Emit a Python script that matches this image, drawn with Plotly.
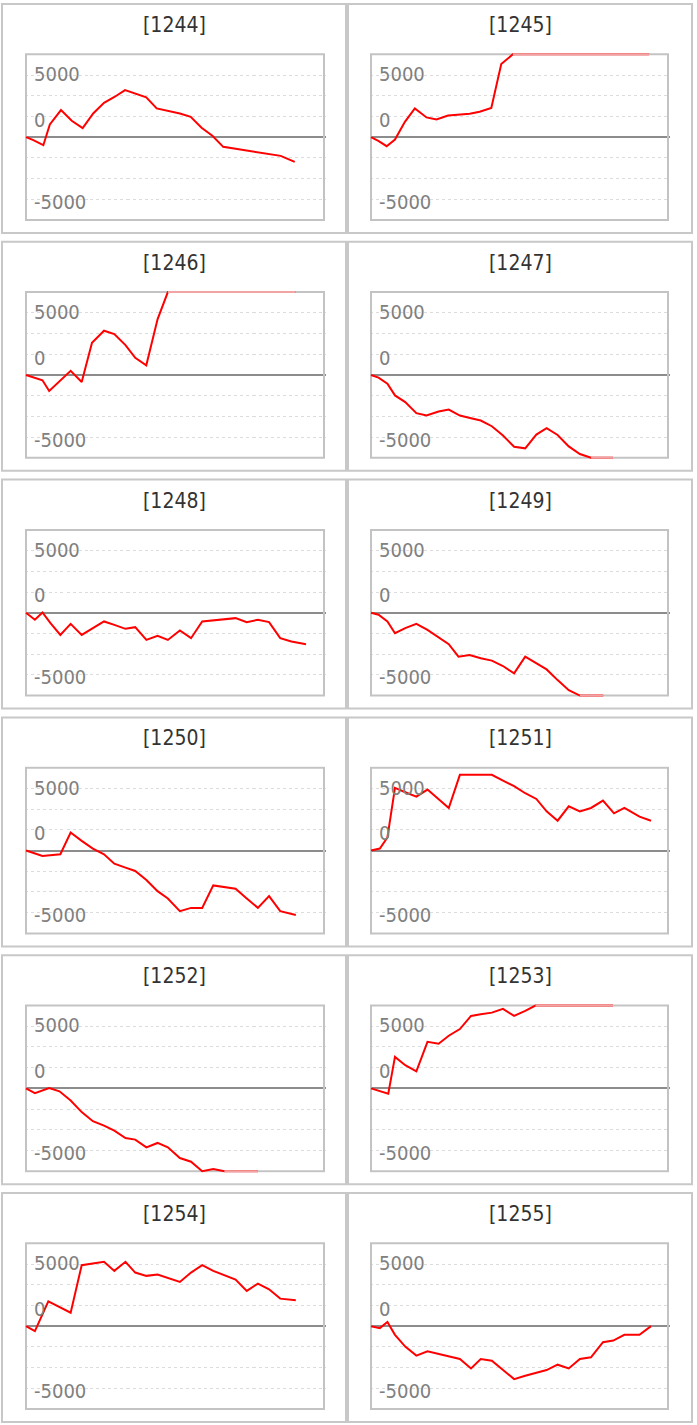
import plotly.graph_objects as go

# ---------------- data ----------------
machines = ["1244", "1245", "1246", "1247", "1248", "1249",
            "1250", "1251", "1252", "1253", "1254", "1255"]

x_1244 = [0, 0.68, 1.6, 2.2, 3.23, 4.22, 5.23, 6.2, 7.2, 8.2, 9.14, 11.1, 12.06, 14.2, 15.2, 16.2, 17.2, 18.2, 23.5, 24.8]
y_1244 = [0, -360, -970, 1530, 3270, 1980, 1090, 2860, 4150, 4880, 5680, 4800, 3470, 2860, 2460, 1130, 160, -1170, -2260, -2980]

x_1245 = [0, 0.68, 1.45, 2.22, 3.14, 4.06, 5.14, 6.06, 7.14, 8.06, 9.14, 10.06, 11.14, 12.06, 12.98, 13.14, 25.75]
y_1245 = [0, -440, -1090, -280, 1850, 3470, 2380, 2140, 2620, 2740, 2820, 3060, 3510, 8830, 9790, 10000, 10000]

x_1246 = [0, 0.62, 1.52, 2.14, 3.09, 4.12, 5.14, 6.09, 7.2, 8.15, 9.18, 10.08, 11.1, 12.14, 13.09, 24.9]
y_1246 = [0, -240, -650, -1940, -730, 490, -850, 3880, 5340, 4940, 3600, 2060, 1170, 6710, 10000, 10000]

x_1247 = [0, 0.7, 1.52, 2.22, 3.17, 4.2, 5.14, 6.26, 7.2, 8.23, 9.26, 10.16, 11.19, 12.22, 13.25, 14.28, 15.31, 16.26, 17.28, 18.31, 19.34, 20.37, 22.4]
y_1247 = [0, -320, -1050, -2470, -3280, -4610, -4900, -4410, -4170, -4900, -5220, -5500, -6190, -7320, -8660, -8860, -7200, -6430, -7240, -8620, -9550, -10000, -10000]

x_1248 = [0, 0.82, 1.52, 2.26, 3.17, 4.12, 5.14, 6.17, 7.2, 8.15, 9.18, 10.08, 11.11, 12.14, 13.09, 14.2, 15.23, 16.26, 17.28, 18.31, 19.34, 20.37, 21.4, 22.43, 23.46, 24.49, 25.84]
y_1248 = [0, -850, 40, -1250, -2670, -1340, -2670, -1860, -1050, -1460, -1940, -1740, -3280, -2790, -3280, -2140, -3070, -1050, -930, -850, -650, -1130, -850, -1130, -3070, -3480, -3800]

x_1249 = [0, 0.7, 1.52, 2.22, 3.17, 4.2, 5.23, 6.26, 7.2, 8.1, 9.13, 10.16, 11.19, 12.22, 13.25, 14.28, 15.31, 16.26, 17.28, 18.31, 19.34, 21.5]
y_1249 = [0, -240, -1050, -2470, -1860, -1340, -2060, -2950, -3800, -5300, -5100, -5500, -5780, -6430, -7320, -5300, -6110, -6840, -8130, -9340, -10000, -10000]

x_1250 = [0, 0.62, 1.52, 3.17, 4.12, 5.14, 6.17, 7.2, 8.15, 9.18, 10.08, 11.11, 12.14, 13.09, 14.2, 15.23, 16.26, 17.28, 18.31, 19.34, 20.37, 21.4, 22.43, 23.46, 24.9]
y_1250 = [0, -240, -650, -450, 2180, 1170, 240, -450, -1580, -2060, -2470, -3560, -4900, -5790, -7320, -6920, -6920, -4210, -4410, -4610, -5790, -6920, -5500, -7320, -7770]

x_1251 = [0, 0.82, 1.52, 2.22, 3.17, 4.2, 5.23, 6.26, 7.2, 8.23, 9.26, 10.16, 11.19, 12.22, 13.25, 14.28, 15.31, 16.26, 17.28, 18.31, 19.34, 20.37, 21.48, 22.5, 23.46, 24.86, 25.93]
y_1251 = [0, 240, 1580, 7560, 7040, 6510, 7360, 6230, 5140, 9140, 9140, 9140, 9140, 8450, 7770, 6920, 6230, 4730, 3600, 5340, 4730, 5140, 6030, 4490, 5140, 4090, 3600]

x_1252 = [0, 0.82, 2.14, 3.09, 4.12, 5.14, 6.17, 7.2, 8.15, 9.18, 10.08, 11.11, 12.14, 13.09, 14.2, 15.23, 16.26, 17.28, 18.31, 21.4]
y_1252 = [0, -570, 40, -360, -1460, -2870, -3960, -4490, -5100, -5990, -6190, -7120, -6590, -7120, -8410, -8860, -10000, -9750, -10000, -10000]

x_1253 = [0, 0.7, 1.6, 2.22, 3.17, 4.2, 5.23, 6.26, 7.2, 8.23, 9.26, 10.16, 11.19, 12.22, 13.25, 14.28, 15.23, 22.4]
y_1253 = [0, -320, -650, 3800, 2790, 2060, 5620, 5380, 6350, 7160, 8740, 8940, 9140, 9590, 8740, 9340, 10000, 10000]

x_1254 = [0, 0.82, 2.06, 4.12, 5.14, 7.2, 8.15, 9.18, 10.08, 11.11, 12.14, 13.17, 14.2, 15.23, 16.26, 17.28, 18.31, 19.34, 20.37, 21.4, 22.43, 23.46, 24.9]
y_1254 = [0, -610, 2990, 1620, 7360, 7770, 6670, 7770, 6470, 6070, 6230, 5830, 5340, 6470, 7360, 6670, 6150, 5620, 4250, 5140, 4450, 3320, 3120]

x_1255 = [0, 0.82, 1.52, 2.22, 3.17, 4.2, 5.23, 6.26, 7.2, 8.23, 9.26, 10.16, 11.19, 12.22, 13.25, 14.28, 15.31, 16.26, 17.28, 18.31, 19.34, 20.37, 21.48, 22.43, 23.46, 24.86, 25.93]
y_1255 = [0, -240, 490, -1050, -2470, -3560, -3030, -3360, -3680, -3960, -5100, -3960, -4170, -5300, -6390, -5990, -5660, -5300, -4650, -5100, -3960, -3760, -1940, -1740, -1050, -1050, 0]

y_tick_labels = ["5000", "0", "-5000"]
grid_values = [-7500, -5000, -2500, 2500, 5000, 7500]

series = [
    (x_1244, y_1244), (x_1245, y_1245), (x_1246, y_1246), (x_1247, y_1247),
    (x_1248, y_1248), (x_1249, y_1249), (x_1250, y_1250), (x_1251, y_1251),
    (x_1252, y_1252), (x_1253, y_1253), (x_1254, y_1254), (x_1255, y_1255),
]

# ---------------- layout constants ----------------
W, H = 697, 1425
LIMIT = 10000
X_MAX = 27.5
LABEL_POS = [7600, 2100, -7800]
PITCH = 237.8
COL_PLOT = [(26, 324), (371, 668)]
COL_PANEL = [(2, 346), (348, 692)]
PANEL_TOP0, PANEL_BOT0 = 4, 233
PLOT_TOP0, PLOT_BOT0 = 54.3, 220
EXT = 1.5
FONT = "DejaVu Sans Condensed, DejaVu Sans, sans-serif"

fig = go.Figure()
shapes, annotations = [], []
layout_axes = {}

for i, (xs, ys) in enumerate(series):
    r, c = divmod(i, 2)
    off = r * PITCH
    k = i + 1
    xn = "x" if k == 1 else f"x{k}"
    yn = "y" if k == 1 else f"y{k}"
    xkey = "xaxis" if k == 1 else f"xaxis{k}"
    ykey = "yaxis" if k == 1 else f"yaxis{k}"

    px0, px1 = COL_PLOT[c]
    pt, pb = PLOT_TOP0 + off, PLOT_BOT0 + off
    xu = X_MAX / (px1 - px0)
    yu = 2 * LIMIT / (pb - pt)

    layout_axes[xkey] = dict(
        domain=[(px0 - EXT) / W, (px1 + EXT) / W],
        range=[-EXT * xu, X_MAX + EXT * xu],
        anchor=yn, showgrid=False, zeroline=False, showline=False,
        showticklabels=False, ticks="", fixedrange=True,
    )
    layout_axes[ykey] = dict(
        domain=[1 - (pb + EXT) / H, 1 - (pt - EXT) / H],
        range=[-LIMIT - EXT * yu, LIMIT + EXT * yu],
        anchor=xn, tickmode="array", tickvals=grid_values,
        showticklabels=False, ticks="", showline=False,
        showgrid=True, gridcolor="#dcdcdc", gridwidth=1, griddash="3px,3px",
        zeroline=True, zerolinecolor="#8c8c8c", zerolinewidth=2,
        fixedrange=True,
    )

    # plot-area border (between grid and traces)
    shapes.append(dict(type="rect", xref=xn, yref=yn, x0=0, x1=X_MAX,
                       y0=-LIMIT, y1=LIMIT, layer="between",
                       line=dict(color="#c3c3c3", width=2)))

    # panel box
    bx0, bx1 = COL_PANEL[c]
    bt, bb = PANEL_TOP0 + off, PANEL_BOT0 + off
    shapes.append(dict(type="rect", xref="paper", yref="paper",
                       x0=bx0 / W, x1=bx1 / W, y0=1 - bb / H, y1=1 - bt / H,
                       layer="below", line=dict(color="#c8c8c8", width=2)))

    # title
    annotations.append(dict(text=f"[{machines[i]}]", xref="paper", yref="paper",
                            x=(bx0 + bx1) / 2 / W, y=1 - (bt + 21) / H,
                            xanchor="center", yanchor="middle", showarrow=False,
                            font=dict(family=FONT, size=21, color="#333333")))
    # y labels
    for lab, pos in zip(y_tick_labels, LABEL_POS):
        annotations.append(dict(text=lab, xref=f"{xn} domain", yref=yn,
                                x=0, y=pos, xshift=EXT + 6, xanchor="left",
                                yanchor="middle", showarrow=False,
                                font=dict(family=FONT, size=20, color="#808080")))

    # series line
    fig.add_trace(go.Scatter(x=xs, y=ys, xaxis=xn, yaxis=yn, mode="lines",
                             line=dict(color="#ff0000", width=2),
                             hoverinfo="skip", showlegend=False))
    # clipped (saturated) part drawn lighter
    cx, cy = [], []
    for j in range(len(ys) - 1):
        if abs(ys[j]) == LIMIT and ys[j + 1] == ys[j]:
            cx += [xs[j], xs[j + 1], None]
            cy += [ys[j], ys[j + 1], None]
    if cx:
        fig.add_trace(go.Scatter(x=cx, y=cy, xaxis=xn, yaxis=yn, mode="lines",
                                 line=dict(color="#f2a3a3", width=2),
                                 hoverinfo="skip", showlegend=False))

fig.update_layout(
    width=W, height=H, margin=dict(l=0, r=0, t=0, b=0),
    paper_bgcolor="white", plot_bgcolor="white",
    shapes=shapes, annotations=annotations, showlegend=False,
    **layout_axes,
)

fig.write_html(
    "out.html",
    config={"displayModeBar": False, "staticPlot": True},
    post_script="document.body.style.margin='0';document.body.style.overflow='hidden';",
)
